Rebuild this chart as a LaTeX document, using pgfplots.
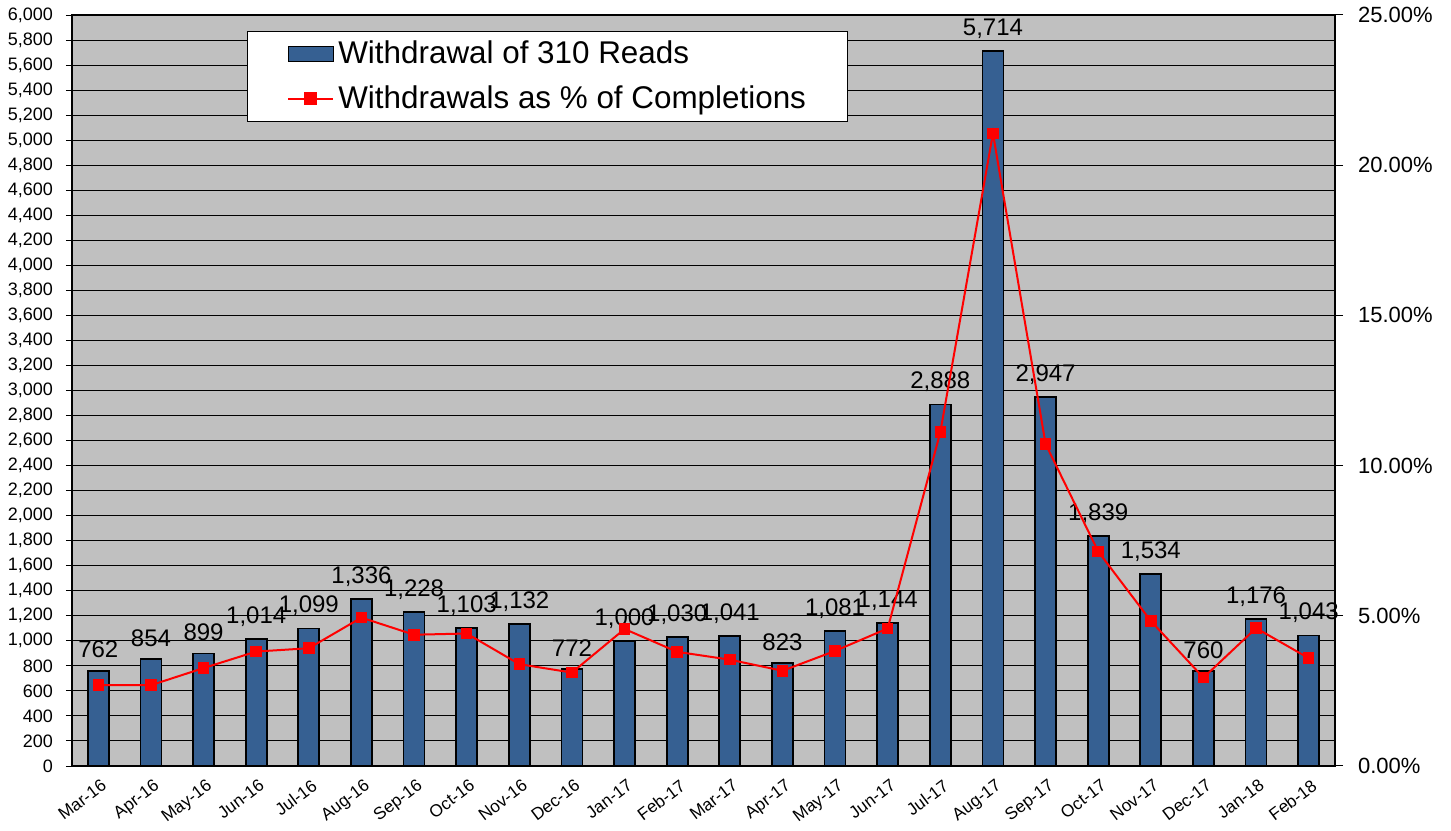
\documentclass[border=0pt]{standalone}
\usepackage{fontspec}
\setmainfont{Liberation Sans}
\usepackage{pgfplots}
\pgfplotsset{compat=1.18}
\definecolor{barblue}{RGB}{54,96,146}
\definecolor{plotgray}{RGB}{192,192,192}
\begin{document}
\begin{tikzpicture}
\useasboundingbox (-36pt,-32pt) rectangle (689.5pt,383pt);
\begin{axis}[
  at={(0,0)}, anchor=south west,
  scale only axis, width=631.5pt, height=375.5pt,
  xmin=-0.5, xmax=23.5, ymin=0, ymax=6000,
  axis background/.style={fill=plotgray},
  axis line style={black, line width=0.6pt},
  ytick distance=200,
  ytick pos=left,
  tick align=outside,
  major tick length=3pt, minor tick length=4pt,
  tick style={black, line width=0.5pt},
  xtick={0,...,23},
  xticklabels={Mar-16,Apr-16,May-16,Jun-16,Jul-16,Aug-16,Sep-16,Oct-16,Nov-16,Dec-16,Jan-17,Feb-17,Mar-17,Apr-17,May-17,Jun-17,Jul-17,Aug-17,Sep-17,Oct-17,Nov-17,Dec-17,Jan-18,Feb-18},
  x tick style={draw=none},
  minor xtick={-0.5,0.5,...,23.5},
  xtick pos=bottom,
  x tick label style={font=\fontsize{8.6}{10}\selectfont, rotate=37, anchor=north east, inner sep=1pt, yshift=-2pt},
  y tick label style={font=\fontsize{9}{10}\selectfont, /pgf/number format/1000 sep={,}, /pgf/number format/assume math mode=true, xshift=-3pt},
  ymajorgrids,
  grid style={black, line width=0.5pt},
  nodes near coords,
  every node near coord/.append style={font=\fontsize{12}{14}\selectfont, black, /pgf/number format/1000 sep={,}, /pgf/number format/assume math mode=true, yshift=2.5pt},
  legend style={at={(0.1385,0.979)}, anchor=north west, draw=black, fill=white,
    font=\fontsize{15.7}{17}\selectfont, row sep=5.5pt, inner xsep=20pt, inner ysep=3pt},
  legend cell align=left,
]
\addplot[ybar, bar width=10.5pt, fill=barblue, draw=black, line width=0.9pt,
  legend image code/.code={\draw[fill=barblue,draw=black,line width=0.6pt] (0pt,-3.7pt) rectangle (22.5pt,3.7pt);}]
  coordinates {
  (0,762) (1,854) (2,899) (3,1014) (4,1099) (5,1336) (6,1228) (7,1103)
  (8,1132) (9,772) (10,1000) (11,1030) (12,1041) (13,823) (14,1081) (15,1144)
  (16,2888) (17,5714) (18,2947) (19,1839) (20,1534) (21,760) (22,1176) (23,1043)};
\addlegendentry{\makebox[232.5pt][l]{Withdrawal of 310 Reads}}
\addlegendimage{red, line width=1pt, mark=square*, mark size=2.4pt, mark options={fill=red, draw=red},
  legend image code/.code={\draw[red,line width=1pt] (0pt,0pt) -- (22.5pt,0pt); \fill[red] (8.5pt,-2.8pt) rectangle (14pt,2.8pt);}}
\addlegendentry{\makebox[232.5pt][l]{Withdrawals as \% of Completions}}
\end{axis}
\begin{axis}[
  at={(0,0)}, anchor=south west,
  scale only axis, width=631.5pt, height=375.5pt,
  xmin=-0.5, xmax=23.5, ymin=0, ymax=25,
  axis y line*=right, axis x line=none,
  axis line style={black, line width=0.6pt},
  ytick={0,5,...,25},
  tick align=outside, major tick length=4pt,
  tick style={black, line width=0.5pt},
  yticklabel={\pgfmathprintnumber[fixed,fixed zerofill,precision=2,assume math mode=true]{\tick}\%},
  y tick label style={font=\fontsize{11}{13}\selectfont, xshift=4pt},
]
\addplot[red, line width=1pt, mark=square*, mark size=2.4pt, mark options={fill=red, draw=red}]
  coordinates {
  (0,2.69) (1,2.69) (2,3.26) (3,3.81) (4,3.92) (5,4.94) (6,4.37) (7,4.41)
  (8,3.39) (9,3.11) (10,4.56) (11,3.80) (12,3.54) (13,3.17) (14,3.83) (15,4.58)
  (16,11.11) (17,21.06) (18,10.72) (19,7.14) (20,4.83) (21,2.94) (22,4.59) (23,3.59)};
\end{axis}
\end{tikzpicture}
\end{document}
